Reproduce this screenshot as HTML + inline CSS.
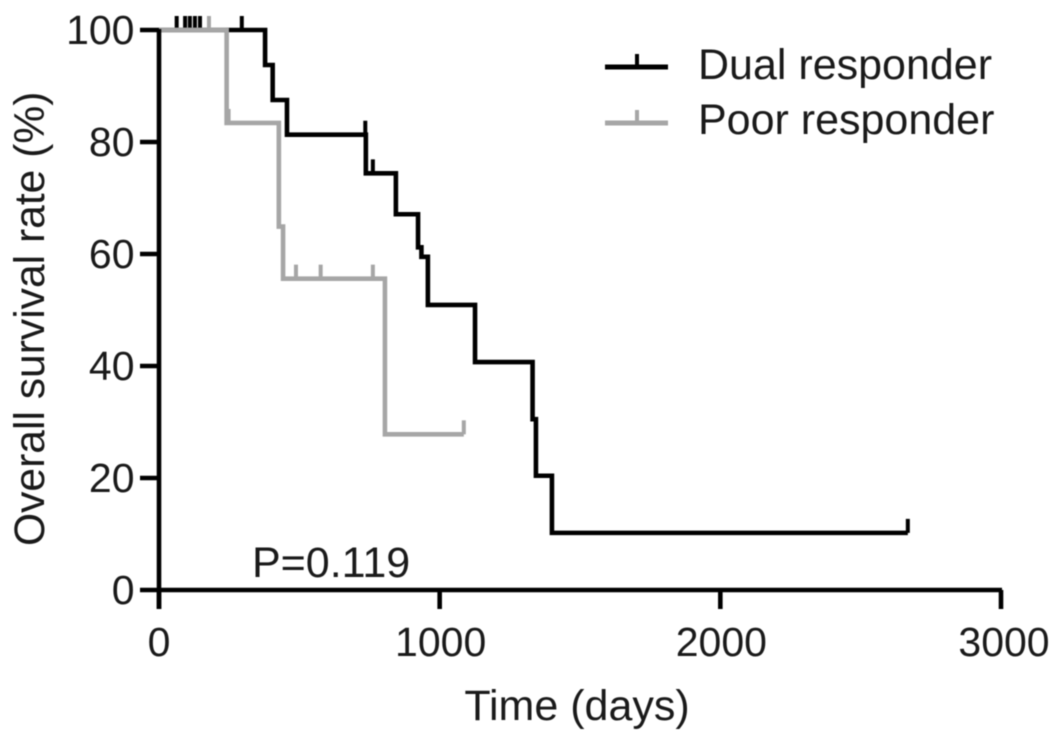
<!DOCTYPE html>
<html>
<head>
<meta charset="utf-8">
<title>Overall survival chart</title>
<style>
html,body{margin:0;padding:0;background:#fff;width:1063px;height:741px;overflow:hidden}
svg{display:block;filter:blur(0.55px)}
text{font-family:"Liberation Sans",sans-serif;fill:#1a1a1a;font-size:41px}
</style>
</head>
<body>
<svg id="chart" width="1063" height="741" viewBox="0 0 1063 741" xmlns="http://www.w3.org/2000/svg">
  <g id="marks"></g>
  <g id="axes"></g>
  <text x="252" y="577" style="font-size:43px">P=0.119</text>
  <text x="577" y="720" text-anchor="middle" style="font-size:43px">Time (days)</text>
  <text transform="translate(44,546) rotate(-90)" style="font-size:42.6px">Overall survival rate (%)</text>
  <g>
    <g>
      <line x1="605" x2="668" y1="67" y2="67" stroke="#000" stroke-width="5"/>
      <line x1="637" x2="637" y1="54" y2="67" stroke="#000" stroke-width="4"/>
      <text x="698" y="79" style="font-size:43px">Dual responder</text>
    </g>
    <g>
      <line x1="605" x2="668" y1="123" y2="123" stroke="#a6a6a6" stroke-width="5"/>
      <line x1="637" x2="637" y1="110" y2="123" stroke="#a6a6a6" stroke-width="4"/>
      <text x="698" y="134" style="font-size:43px">Poor responder</text>
    </g>
  </g>
</svg>
<script>
var xTicks = [0, 1000, 2000, 3000];
var yTicks = [0, 20, 40, 60, 80, 100];
var dualTimes = [0, 378, 405, 456, 737, 844, 923, 935, 958, 1126, 1331, 1343, 1400];
var dualSurvival = [100, 93.75, 87.5, 81.3, 74.4, 67.1, 61.2, 59.5, 50.9, 40.7, 30.5, 20.4, 10.2];
var dualEnd = 2668;
var dualCensored = [63, 93, 110, 128, 146, 295, 735, 762, 2668];
var poorTimes = [0, 241, 427, 442, 805];
var poorSurvival = [100, 83.4, 64.9, 55.6, 27.8];
var poorEnd = 1086;
var poorCensored = [178, 248, 488, 576, 762, 1086];

var NS = 'http://www.w3.org/2000/svg';
function xScale(d) { return 159 + d * (1001 - 159) / 3000; }
function yScale(v) { return 590 - v * (590 - 30) / 100; }
function survivalAt(times, values, t) {
  var s = values[0];
  for (var i = 0; i < times.length; i++) { if (times[i] <= t) { s = values[i]; } }
  return s;
}
function make(tag, attrs, parent) {
  var el = document.createElementNS(NS, tag);
  for (var k in attrs) { el.setAttribute(k, attrs[k]); }
  parent.appendChild(el);
  return el;
}
var marks = document.getElementById('marks');
var axes = document.getElementById('axes');

function drawSeries(name, times, values, end, censored, color) {
  var d = 'M' + xScale(times[0]) + ' ' + yScale(values[0]);
  for (var i = 1; i < times.length; i++) {
    d += 'H' + xScale(times[i]) + 'V' + yScale(values[i]);
  }
  d += 'H' + xScale(end);
  var path = make('path', {d: d, fill: 'none', stroke: color, 'stroke-width': 4.6, 'stroke-linejoin': 'miter'}, marks);
  
  
  censored.forEach(function (t) {
    var s = survivalAt(times, values, t);
    var tick = make('line', {x1: xScale(t), x2: xScale(t), y1: yScale(s) - 14, y2: yScale(s), stroke: color, 'stroke-width': 4}, marks);
    
    
  });
}
drawSeries('dual', dualTimes, dualSurvival, dualEnd, dualCensored, '#000');
drawSeries('poor', poorTimes, poorSurvival, poorEnd, poorCensored, '#a6a6a6');
// The grey series sits above the black one along the shared 100% segment.
var topSeg = make('line', {x1: xScale(0), x2: xScale(241), y1: yScale(100), y2: yScale(100), stroke: '#a6a6a6', 'stroke-width': 4.6}, marks);



var xAxis = make('line', {x1: xScale(0) - 2, x2: xScale(3000) + 1, y1: yScale(0), y2: yScale(0), stroke: '#000', 'stroke-width': 4.6}, axes);


var yAxis = make('line', {x1: xScale(0), x2: xScale(0), y1: yScale(100) - 1, y2: yScale(0) + 19, stroke: '#000', 'stroke-width': 4.6}, axes);



xTicks.forEach(function (t) {
  var tick = make('line', {x1: xScale(t), x2: xScale(t), y1: yScale(0), y2: yScale(0) + 19, stroke: '#000', 'stroke-width': 4.6}, axes);
  
  
  var label = make('text', {x: xScale(t) + (t === 3000 ? 3 : t === 0 ? 0 : 1), y: 656, 'text-anchor': 'middle'}, axes);
  
  
  label.textContent = t;
});
yTicks.forEach(function (v) {
  var tick = make('line', {x1: 140, x2: xScale(0), y1: yScale(v), y2: yScale(v), stroke: '#000', 'stroke-width': 4.6}, axes);
  
  
  var label = make('text', {x: 134.5, y: yScale(v) + 14, 'text-anchor': 'end'}, axes);
  
  
  label.textContent = v;
});
</script>
</body>
</html>
